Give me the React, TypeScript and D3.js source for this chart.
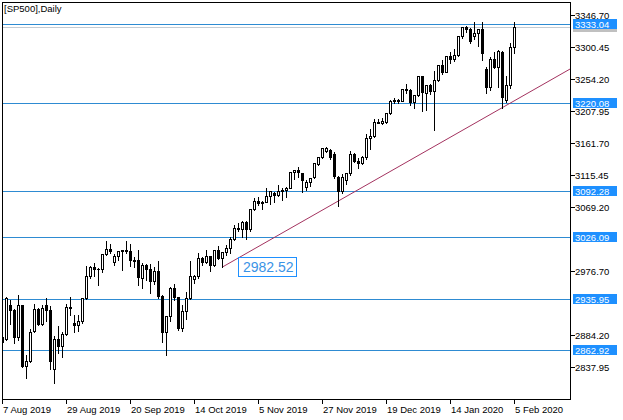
import React from "react";
import * as d3 from "d3";

const title = "[SP500],Daily";

const dates = [
  "2019-08-07","2019-08-08","2019-08-09","2019-08-12","2019-08-13","2019-08-14","2019-08-15","2019-08-16","2019-08-19","2019-08-20",
  "2019-08-21","2019-08-22","2019-08-23","2019-08-26","2019-08-27","2019-08-28","2019-08-29","2019-08-30","2019-09-02","2019-09-03",
  "2019-09-04","2019-09-05","2019-09-06","2019-09-09","2019-09-10","2019-09-11","2019-09-12","2019-09-13","2019-09-16","2019-09-17",
  "2019-09-18","2019-09-19","2019-09-20","2019-09-23","2019-09-24","2019-09-25","2019-09-26","2019-09-27","2019-09-30","2019-10-01",
  "2019-10-02","2019-10-03","2019-10-04","2019-10-07","2019-10-08","2019-10-09","2019-10-10","2019-10-11","2019-10-14","2019-10-15",
  "2019-10-16","2019-10-17","2019-10-18","2019-10-21","2019-10-22","2019-10-23","2019-10-24","2019-10-25","2019-10-28","2019-10-29",
  "2019-10-30","2019-10-31","2019-11-01","2019-11-04","2019-11-05","2019-11-06","2019-11-07","2019-11-08","2019-11-11","2019-11-12",
  "2019-11-13","2019-11-14","2019-11-15","2019-11-18","2019-11-19","2019-11-20","2019-11-21","2019-11-22","2019-11-25","2019-11-26",
  "2019-11-27","2019-11-28","2019-11-29","2019-12-02","2019-12-03","2019-12-04","2019-12-05","2019-12-06","2019-12-09","2019-12-10",
  "2019-12-11","2019-12-12","2019-12-13","2019-12-16","2019-12-17","2019-12-18","2019-12-19","2019-12-20","2019-12-23","2019-12-24",
  "2019-12-26","2019-12-27","2019-12-30","2019-12-31","2020-01-02","2020-01-03","2020-01-06","2020-01-07","2020-01-08","2020-01-09",
  "2020-01-10","2020-01-13","2020-01-14","2020-01-15","2020-01-16","2020-01-17","2020-01-20","2020-01-21","2020-01-22","2020-01-23",
  "2020-01-24","2020-01-27","2020-01-28","2020-01-29","2020-01-30","2020-01-31","2020-02-03","2020-02-04","2020-02-05",
];

const open = [
  2882,2879,2928,2921,2882,2927,2840,2847,2890,2922,
  2900,2928,2921,2835,2878,2869,2886,2924,2902,2899,
  2905,2937,2970,2982,2979,2980,3001,3008,2990,2999,
  3006,3007,3006,2991,2993,2967,2985,2979,2962,2977,
  2941,2888,2911,2952,2939,2894,2919,2938,2965,2969,
  2996,2990,2998,2986,3007,2996,3004,3010,3023,3039,
  3037,3047,3037,3066,3078,3075,3077,3085,3090,3087,
  3092,3094,3097,3120,3122,3118,3098,3105,3112,3132,
  3141,3150,3152,3146,3113,3093,3108,3118,3146,3136,
  3133,3142,3169,3172,3192,3191,3192,3205,3222,3224,
  3223,3240,3238,3221,3231,3258,3234,3246,3237,3253,
  3274,3265,3288,3283,3289,3316,3329,3326,3316,3321,
  3326,3269,3243,3283,3272,3293,3224,3245,3300,
];

const high = [
  2892,2940,2936,2923,2943,2929,2857,2894,2931,2924,
  2929,2939,2927,2884,2899,2890,2931,2941,2915,2914,
  2939,2986,2986,2990,2983,3002,3021,3017,3003,3007,
  3008,3021,3017,2999,3008,2990,2988,2988,2984,2993,
  2944,2912,2955,2960,2941,2929,2948,2993,2973,3004,
  2998,3008,3000,3008,3015,3006,3016,3027,3044,3048,
  3050,3050,3067,3084,3085,3080,3098,3094,3092,3103,
  3098,3099,3121,3124,3128,3119,3110,3113,3134,3143,
  3155,3157,3154,3150,3115,3119,3120,3151,3149,3142,
  3144,3176,3184,3198,3198,3199,3206,3226,3228,3227,
  3241,3249,3241,3233,3259,3259,3247,3248,3267,3276,
  3283,3289,3294,3299,3318,3330,3332,3330,3338,3327,
  3338,3273,3287,3294,3297,3296,3260,3307,3338,
];

const low = [
  2826,2877,2900,2873,2877,2838,2822,2845,2888,2898,
  2898,2904,2835,2815,2858,2853,2884,2913,2889,2890,
  2902,2936,2967,2969,2957,2975,3000,3002,2985,2993,
  2978,3003,2984,2982,2957,2952,2963,2945,2958,2938,
  2874,2855,2905,2935,2891,2890,2908,2936,2960,2966,
  2985,2988,2976,2984,2994,2982.52,3000,3002,3022,3034,
  3026,3023,3035,3065,3072,3066,3076,3074,3076,3085,
  3079,3083,3096,3110,3113,3091,3094,3099,3111,3130,
  3140,3148,3139,3111,3071,3090,3103,3116,3134,3126,
  3131,3138,3153,3170,3190,3189,3190,3204,3220,3219,
  3222,3234,3216,3212,3229,3208,3210,3232,3181,3252,
  3261,3264,3277,3280,3288,3314,3322,3306,3312,3302,
  3281,3234,3238,3270,3243,3213,3221,3241,3292,
];

const close = [
  2874,2938,2921,2882,2927,2840,2847,2889,2922,2900,
  2923,2921,2847,2878,2869,2886,2925,2923,2899,2905,
  2937,2970,2982,2979,2980,3001,3008,3006,2999,3006,
  3007,3006,2992,2993,2968,2985,2979,2962,2977,2941,
  2888,2911,2952,2939,2894,2919,2938,2970,2969,2996,
  2990,2998,2986,3007,2996,3004,3010,3023,3039,3037,
  3047,3037,3066,3078,3075,3077,3085,3093,3087,3092,
  3094,3097,3120,3122,3120,3108,3105,3111,3133,3141,
  3154,3155,3142,3114,3093,3112,3118,3146,3136,3133,
  3142,3169,3172,3192,3191,3193,3205,3222,3224,3222,
  3240,3238,3221,3231,3258,3235,3246,3237,3253,3274,
  3265,3288,3283,3289,3316,3329,3326,3309,3321,3326,
  3292,3242,3283,3272,3294,3228,3246,3300,3329.5,
];

const levels = [3333.04, 3220.08, 3092.28, 3026.09, 2935.95, 2862.92];
const priceTicks = [3346.7, 3300.45, 3254.2, 3207.95, 3161.7, 3115.45, 3069.2, 2976.7, 2884.2, 2837.95];
const timeTickEvery = 16;
const bid = 3329.5;
const trendStart = { index: 55, price: 2982.52 };
const trendEnd = { index: 125, price: 3213 };

const W = 623;
const H = 420;
const FONT = "'Liberation Sans', Arial, sans-serif";
const LINE_BLUE = "#2E8BD2";
const LABEL_BLUE = "#1E90FF";
const TREND = "#A3325F";

export default function App() {
  const plotLeft = 2.5;
  const plotTop = 2.5;
  const plotRight = 570.5;
  const plotBottom = 399.5;

  const x = d3.scaleLinear().domain([0, dates.length - 1]).range([2.5, 2.5 + 4 * (dates.length - 1)]);
  const y = d3.scaleLinear().domain([2837.95, 3346.7]).range([367, 15]);
  const py = (p: number) => Math.round(y(p)) + 0.5;
  const fmt = d3.timeFormat("%-d %b %Y");
  const parse = d3.timeParse("%Y-%m-%d");

  const timeTicks = d3.range(0, dates.length, timeTickEvery);

  const tx1 = x(trendStart.index);
  const ty1 = y(trendStart.price);
  const tx2 = x(trendEnd.index);
  const ty2 = y(trendEnd.price);
  const slope = (ty2 - ty1) / (tx2 - tx1);
  const txEnd = plotRight;
  const tyEnd = ty1 + slope * (txEnd - tx1);

  return (
    <svg
      width={W}
      height={H}
      viewBox={`0 0 ${W} ${H}`}
      style={{ position: "absolute", left: 0, top: 0, background: "#fff", display: "block" }}
      fontFamily={FONT}
    >
      <defs>
        <clipPath id="plot">
          <rect x={3} y={3} width={plotRight - 3} height={plotBottom - 3} />
        </clipPath>
      </defs>
      <rect x={0} y={0} width={W} height={H} fill="#fff" />

      <g clipPath="url(#plot)">
        {/* bid line */}
        <line x1={plotLeft} x2={plotRight} y1={py(bid)} y2={py(bid)} stroke="#C3CBD3" strokeWidth={1} />
        {/* horizontal levels */}
        {levels.map((lv) => (
          <line key={lv} x1={plotLeft} x2={plotRight} y1={py(lv)} y2={py(lv)} stroke={LINE_BLUE} strokeWidth={1} />
        ))}
        {/* trend line */}
        <line x1={tx1} y1={ty1} x2={txEnd} y2={tyEnd} stroke={TREND} strokeWidth={1} />
        {/* candles */}
        {dates.map((d, i) => {
          const cx = x(i);
          const o = open[i];
          const c = close[i];
          const top = py(Math.max(o, c));
          const bot = py(Math.min(o, c));
          const bull = c >= o;
          return (
            <g key={d} shapeRendering="crispEdges">
              <line x1={cx} x2={cx} y1={py(high[i])} y2={py(low[i])} stroke="#000" strokeWidth={1} />
              <rect
                x={cx - 1}
                y={top}
                width={2}
                height={Math.max(bot - top, 0.01)}
                fill={bull ? "#fff" : "#000"}
                stroke="#000"
                strokeWidth={1}
              />
            </g>
          );
        })}
        {/* price label for trend start */}
        <rect x={238.5} y={257.5} width={58} height={19} fill="#fff" stroke={LABEL_BLUE} strokeWidth={1} shapeRendering="crispEdges" />
        <text x={243} y={272} fontSize={14} fill="#3A93E6">
          {trendStart.price.toFixed(2)}
        </text>
      </g>

      {/* frame */}
      <rect
        x={plotLeft}
        y={plotTop}
        width={plotRight - plotLeft}
        height={plotBottom - plotTop}
        fill="none"
        stroke="#000"
        strokeWidth={1}
        shapeRendering="crispEdges"
      />

      {/* title */}
      <text x={4} y={12} fontSize={9.5} fill="#000">
        {title}
      </text>

      {/* price axis */}
      {priceTicks.map((p) => (
        <g key={p}>
          <line x1={plotRight} x2={plotRight + 4} y1={py(p)} y2={py(p)} stroke="#000" strokeWidth={1} shapeRendering="crispEdges" />
          <text x={575} y={Math.round(y(p)) + 4} fontSize={9.5} fill="#000">
            {p.toFixed(2)}
          </text>
        </g>
      ))}

      {/* bid label (gray) */}
      <rect x={573} y={py(bid) - 5.5} width={44} height={10} fill="#C0C0C0" shapeRendering="crispEdges" />
      {/* level labels */}
      {levels.map((lv) => (
        <g key={"l" + lv}>
          <rect x={573} y={py(lv) - 5.5} width={44} height={10} fill={LABEL_BLUE} shapeRendering="crispEdges" />
          <text x={575} y={Math.round(y(lv)) + 4} fontSize={9.5} fill="#fff">
            {lv.toFixed(2)}
          </text>
        </g>
      ))}

      {/* time axis */}
      {timeTicks.map((i) => (
        <g key={"t" + i}>
          <line x1={x(i)} x2={x(i)} y1={plotBottom} y2={plotBottom + 4} stroke="#000" strokeWidth={1} shapeRendering="crispEdges" />
          <text x={x(i) + 0.5} y={413} fontSize={9.5} fill="#000">
            {fmt(parse(dates[i]) as Date)}
          </text>
        </g>
      ))}
    </svg>
  );
}
